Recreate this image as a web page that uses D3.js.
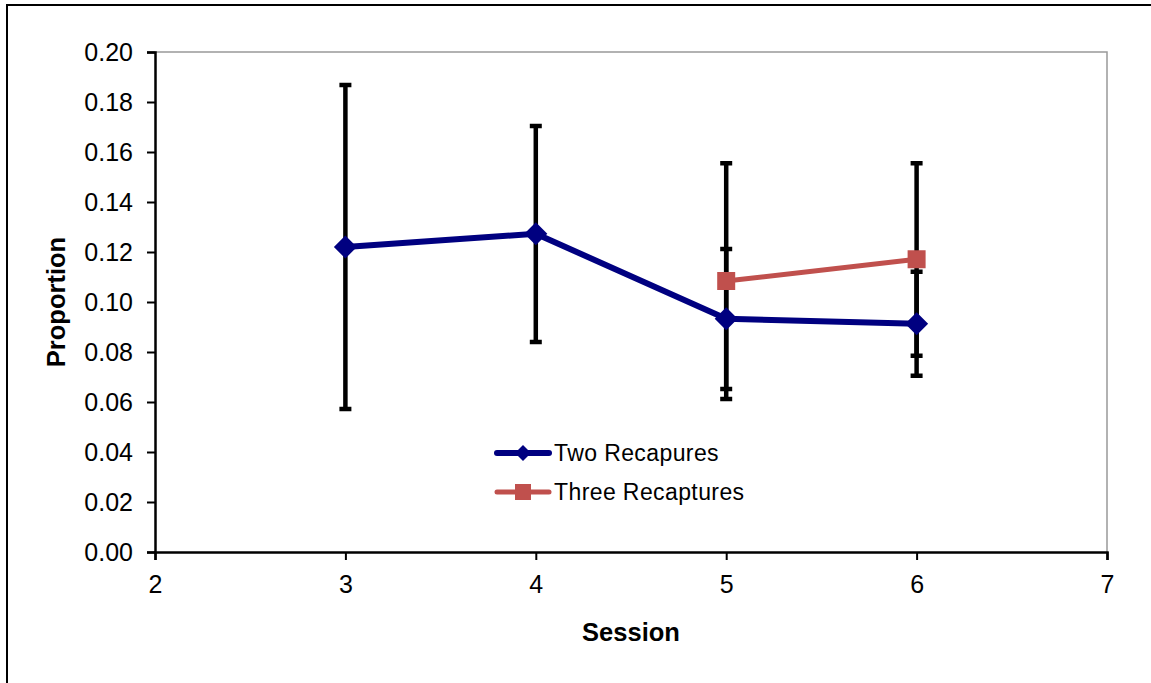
<!DOCTYPE html>
<html><head><meta charset="utf-8">
<script src="https://cdn.jsdelivr.net/npm/d3@7"></script>
<style>body{margin:0;background:#fff}svg{display:block}text{font-family:"Liberation Sans",Arial,sans-serif}</style>
</head><body>
<svg id="c" width="1151" height="683"></svg>
<script>
const sessionsTwo = [3, 4, 5, 6];
const valuesTwo = [0.122, 0.1273, 0.0933, 0.0913];
const lowTwo = [0.0572, 0.084, 0.0652, 0.0705];
const highTwo = [0.1868, 0.1704, 0.1212, 0.1121];
const sessionsThree = [5, 6];
const valuesThree = [0.1084, 0.1171];
const lowThree = [0.0612, 0.0785];
const highThree = [0.1555, 0.1555];
const xTicks = [2, 3, 4, 5, 6, 7];
const yTicks = [0, 0.02, 0.04, 0.06, 0.08, 0.1, 0.12, 0.14, 0.16, 0.18, 0.2];
const seriesNames = ["Two Recapures", "Three Recaptures"];

const svg = d3.select("#c");
const L = 155, R = 1107, T = 52, B = 552;
const x = d3.scaleLinear().domain([2, 7]).range([L, R]);
const y = d3.scaleLinear().domain([0, 0.2]).range([B, T]);

// outer border
svg.append("rect").attr("x", 7).attr("y", 5).attr("width", 1160).attr("height", 700)
  .attr("fill", "none").attr("stroke", "#000").attr("stroke-width", 2);

// plot area border (gray top/right)
svg.append("path").attr("d", `M${L},${T}H${R}V${B}`).attr("fill", "none").attr("stroke", "#999").attr("stroke-width", 1.5);

const fs = "25px";
// axes
const yAxis = svg.append("g").attr("transform", `translate(${L},0)`)
  .call(d3.axisLeft(y).tickValues(yTicks).tickFormat(d3.format(".2f")).tickSize(8).tickPadding(14));
const xAxis = svg.append("g").attr("transform", `translate(0,${B})`)
  .call(d3.axisBottom(x).tickValues(xTicks).tickFormat(d3.format("d")).tickSize(8).tickPadding(15));
[yAxis, xAxis].forEach(g => {
  g.select(".domain").attr("stroke", "#000").attr("stroke-width", 2.5);
  g.selectAll(".tick line").attr("stroke", "#000").attr("stroke-width", 2);
  g.selectAll("text").attr("font-size", fs).attr("fill", "#000").attr("font-family", "Liberation Sans, Arial, sans-serif");
});

// error bars
function errBars(xs, lo, hi) {
  const g = svg.append("g");
  xs.forEach((s, i) => {
    g.append("line").attr("x1", x(s)).attr("x2", x(s)).attr("y1", y(lo[i])).attr("y2", y(hi[i]))
      .attr("stroke", "#000").attr("stroke-width", 4.5);
    [lo[i], hi[i]].forEach(v => g.append("line").attr("x1", x(s) - 6).attr("x2", x(s) + 6)
      .attr("y1", y(v)).attr("y2", y(v)).attr("stroke", "#000").attr("stroke-width", 4.5));
  });
}
errBars(sessionsTwo, lowTwo, highTwo);
errBars(sessionsThree, lowThree, highThree);

const line = d3.line().x(d => x(d[0])).y(d => y(d[1]));
const dTwo = sessionsTwo.map((s, i) => [s, valuesTwo[i]]);
const dThree = sessionsThree.map((s, i) => [s, valuesThree[i]]);
svg.append("path").attr("d", line(dTwo)).attr("fill", "none").attr("stroke", "#000080").attr("stroke-width", 6).attr("stroke-linejoin", "round");
svg.append("path").attr("d", line(dThree)).attr("fill", "none").attr("stroke", "#C0504D").attr("stroke-width", 5);

function diamondPath(cx, cy, r) { return `M${cx},${cy - r}L${cx + r},${cy}L${cx},${cy + r}L${cx - r},${cy}Z`; }
svg.append("g").selectAll("path").data(dTwo).join("path")
  .attr("d", d => diamondPath(x(d[0]), y(d[1]), 11.5)).attr("fill", "#000080");
svg.append("g").selectAll("rect").data(dThree).join("rect")
  .attr("x", d => x(d[0]) - 9).attr("y", d => y(d[1]) - 9).attr("width", 18).attr("height", 18).attr("fill", "#C0504D");

// legend
const lg = svg.append("g");
const lx1 = 497, lx2 = 549, ly = [453, 492];
lg.append("line").attr("x1", lx1).attr("x2", lx2).attr("y1", ly[0]).attr("y2", ly[0]).attr("stroke", "#000080").attr("stroke-width", 6).attr("stroke-linecap", "round");
lg.append("path").attr("d", diamondPath((lx1 + lx2) / 2, ly[0], 8)).attr("fill", "#000080");
lg.append("line").attr("x1", lx1).attr("x2", lx2).attr("y1", ly[1]).attr("y2", ly[1]).attr("stroke", "#C0504D").attr("stroke-width", 5).attr("stroke-linecap", "round");
lg.append("rect").attr("x", (lx1 + lx2) / 2 - 8).attr("y", ly[1] - 8).attr("width", 16).attr("height", 16).attr("fill", "#C0504D");
seriesNames.forEach((n, i) => lg.append("text").attr("x", 554).attr("y", ly[i]).attr("dy", "0.36em")
  .attr("font-size", "23px").style("letter-spacing", "0.4px").text(n));

// axis titles
svg.append("text").attr("x", 631).attr("y", 641).attr("text-anchor", "middle")
  .attr("font-size", "25.5px").attr("font-weight", "bold").text("Session");
svg.append("text").attr("transform", `translate(65,${(T + B) / 2}) rotate(-90)`).attr("text-anchor", "middle")
  .attr("font-size", "25.5px").attr("font-weight", "bold").text("Proportion");
</script>
</body></html>
